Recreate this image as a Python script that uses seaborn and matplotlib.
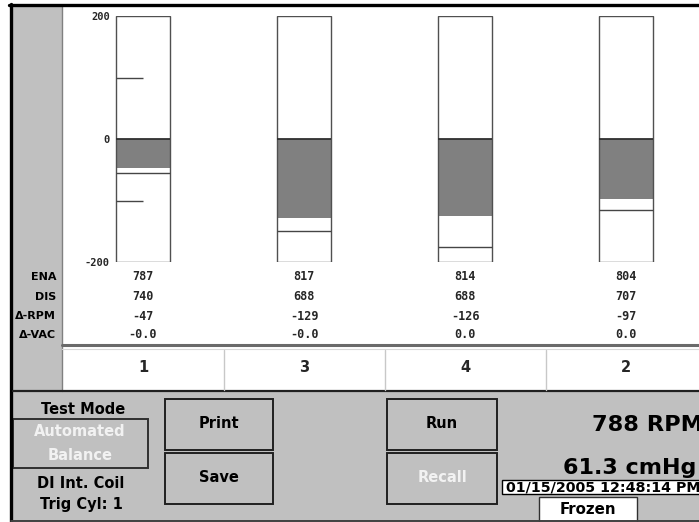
import matplotlib
matplotlib.use("Agg")
import matplotlib.pyplot as plt
from matplotlib.patches import Rectangle
from matplotlib.lines import Line2D
from matplotlib.transforms import blended_transform_factory
import pandas as pd
import seaborn as sns

# Power-balance readings per cylinder, in firing order
cylinders = ["1", "3", "4", "2"]
ena_rpm = [787, 817, 814, 804]
dis_rpm = [740, 688, 688, 707]
delta_rpm = [-47, -129, -126, -97]
delta_vac = [-0.0, -0.0, 0.0, 0.0]
peak_drop = [-55, -150, -176, -115]
scale_ticks = [-200, 0, 200]
scale_labels = ["-200", "0", "200"]
guide_marks = [100, -100]
row_labels = ["ENA", "DIS", "Δ-RPM", "Δ-VAC"]
engine_rpm = 788
vacuum_cmhg = 61.3
timestamp = "01/15/2005 12:48:14 PM"

W, H = 699, 522
sns.set_style("white")
plt.rcParams["font.family"] = ["DejaVu Sans"]

fig = plt.figure(figsize=(W / 100, H / 100), dpi=100)
fig.patch.set_facecolor("white")

PANEL = "#c0c0c0"


def fx(x):
    return x / W


def fy(y):
    return 1 - y / H


def rect(x0, y0, x1, y1, fc, ec="none", lw=0, z=1):
    fig.add_artist(Rectangle((fx(x0), fy(y1)), fx(x1) - fx(x0), fy(y0) - fy(y1),
                             transform=fig.transFigure, facecolor=fc,
                             edgecolor=ec, linewidth=lw, zorder=z))


def hline(x0, x1, y, color, lw, z=3):
    fig.add_artist(Line2D([fx(x0), fx(x1)], [fy(y), fy(y)], transform=fig.transFigure,
                          color=color, linewidth=lw, zorder=z))


def vline(x, y0, y1, color, lw, z=3):
    fig.add_artist(Line2D([fx(x), fx(x)], [fy(y0), fy(y1)], transform=fig.transFigure,
                          color=color, linewidth=lw, zorder=z))


def label(x, y, s, size=10.5, color="black", ha="center", family="DejaVu Sans"):
    fig.text(fx(x), fy(y), s, ha=ha, va="center", fontsize=size, fontweight="bold",
             color=color, family=family, zorder=8)


# Window frame and panels
rect(13, 5, 62, 392, PANEL, z=0)
rect(13, 391, 705, 521, PANEL, z=0)
rect(62, 350, 705, 391, "white", z=0.5)
vline(62, 5, 391, "#808080", 1)
hline(9, 705, 5, "black", 2.4)
vline(11, 4, 522, "black", 2.4)
hline(62, 705, 345, "#6a6a6a", 2.2)
hline(62, 705, 348.5, "#d8d8d8", 0.8)
hline(13, 705, 391, "#202020", 1.6)
hline(11, 705, 520.8, "#404040", 1.4)

# Bar gauges
ax = fig.add_axes([fx(62.5), fy(262), 644 / W, 246 / H])
ax.set_zorder(5)
ax.set_facecolor("none")
df = pd.DataFrame({"cylinder": cylinders, "delta_rpm": delta_rpm})
bw = 0.335
sns.barplot(data=df, x="cylinder", y="delta_rpm", order=cylinders, color="#808080",
            saturation=1, width=bw, linewidth=0, ax=ax, zorder=2)
xs = list(range(len(cylinders)))
lo, hi = scale_ticks[0], scale_ticks[-1]
ax.bar(xs, hi - lo, bottom=lo, width=bw, color="white", linewidth=0, zorder=0.5)
ax.bar(xs, hi - lo, bottom=lo, width=bw, fill=False, edgecolor="#505050",
       linewidth=1, zorder=4)
left = [x - bw / 2 for x in xs]
right = [x + bw / 2 for x in xs]
ax.hlines([0] * len(xs), left, right, color="#303030", linewidth=1.3, zorder=4)
ax.hlines(peak_drop, left, right, color="#454545", linewidth=1.0, zorder=4)
ax.hlines(guide_marks, left[0], xs[0], color="#454545", linewidth=1.0, zorder=4)
ax.set_xlim(-0.5, 3.5)
ax.set_ylim(lo, hi)
ax.set_yticks(scale_ticks)
ax.set_yticklabels(scale_labels, family="DejaVu Sans Mono", fontweight="bold", fontsize=7.5)
# scale labels sit just left of the first gauge
ax.tick_params(axis="y", length=0, pad=-(110 - 62.5) * 72 / 100)
ax.tick_params(axis="x", length=0, labelbottom=False)
ax.set_xlabel("")
ax.set_ylabel("")
for s in ax.spines.values():
    s.set_visible(False)

# Readings under each gauge
row_y = [277, 297, 316, 335]
trans = blended_transform_factory(ax.transData, fig.transFigure)
rows = [[str(v) for v in ena_rpm], [str(v) for v in dis_rpm],
        [str(v) for v in delta_rpm], [f"{v:.1f}" for v in delta_vac]]
for name, y, vals in zip(row_labels, row_y, rows):
    label(56, y, name, size=8, ha="right")
    for x, v in zip(xs, vals):
        ax.text(x, fy(y), v, transform=trans, ha="center", va="center",
                family="DejaVu Sans Mono", fontweight="bold", fontsize=8.5)

# Cylinder number strip
for b in [0.5, 1.5, 2.5]:
    ax.plot([b, b], [fy(350), fy(390)], transform=trans, color="#c8c8c8",
            linewidth=1, clip_on=False, zorder=3)
for x, c in zip(xs, cylinders):
    ax.text(x, fy(367), c, transform=trans, ha="center", va="center",
            fontweight="bold", fontsize=10.5)

# Control panel
label(83, 410, "Test Mode")
rect(13, 419, 148, 468, PANEL, ec="#303030", lw=1.4, z=2)
label(80, 432, "Automated", color="#f2f2f2")
label(80, 456, "Balance", color="#f2f2f2")
label(81, 483, "DI Int. Coil")
label(81, 504, "Trig Cyl: 1")

for (x0, x1), texts in [((165, 273), [("Print", "black"), ("Save", "black")]),
                        ((387, 497), [("Run", "black"), ("Recall", "#f2f2f2")])]:
    for (y0, y1), (t, col) in zip([(399, 450), (453, 504)], texts):
        rect(x0, y0, x1, y1, PANEL, ec="#202020", lw=1.4, z=2)
        label((x0 + x1) / 2, (y0 + y1) / 2 - 1, t, color=col)

label(592, 425, f"{engine_rpm} RPM", size=16.2, ha="left")
label(563, 468, f"{vacuum_cmhg:.1f} cmHg", size=16, ha="left")
rect(502, 480, 705, 494, "white", ec="black", lw=1, z=2)
label(506, 487.5, timestamp, size=10.3, ha="left")
rect(539, 497, 637, 526, "white", ec="#303030", lw=1, z=2)
label(588, 510, "Frozen", size=10.8)

fig.savefig("out.png", dpi=100)
